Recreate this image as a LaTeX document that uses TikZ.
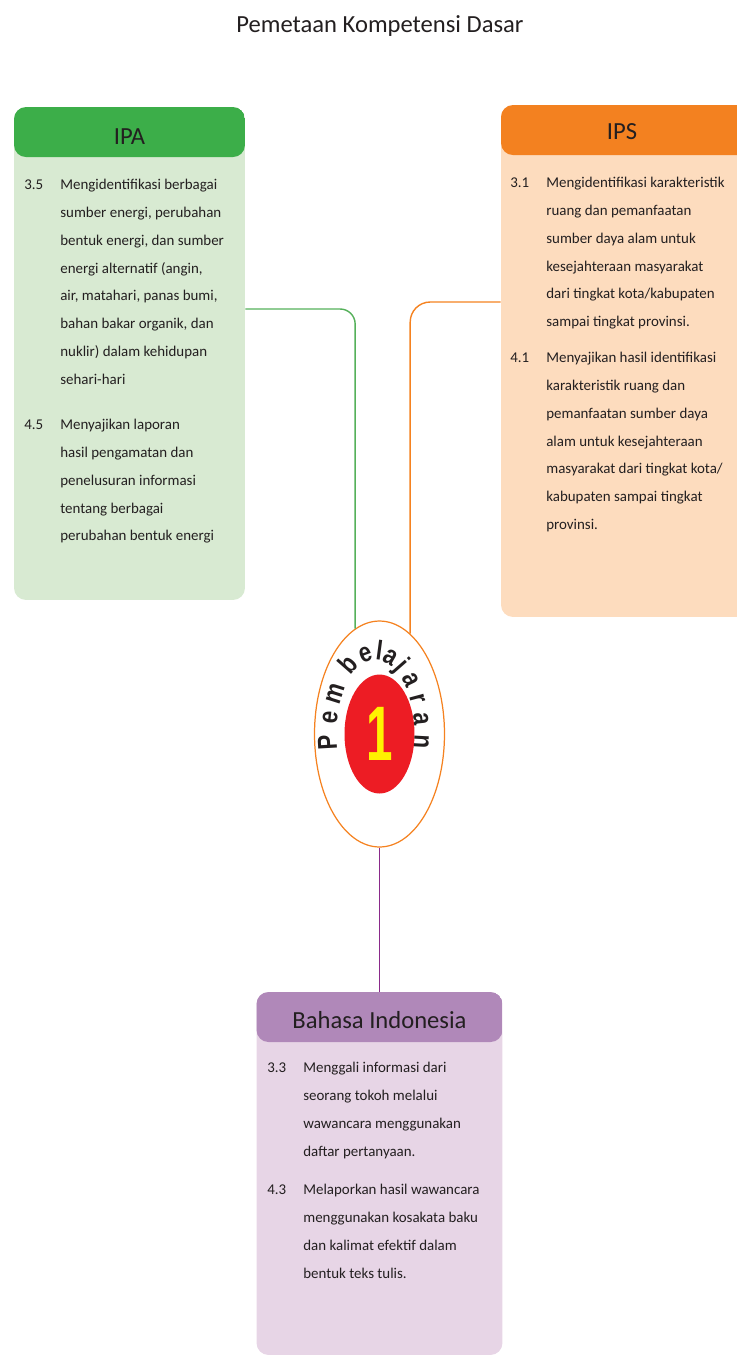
\documentclass[tikz,border=0pt]{standalone}
\usepackage{fontspec}
\setmainfont{Carlito}
\newfontfamily\pembfont{Liberation Sans}[FakeStretch=0.82]
\usetikzlibrary{shapes.geometric}
\definecolor{ink}{RGB}{35,31,32}
\definecolor{ipahead}{RGB}{60,174,73}
\definecolor{ipabody}{RGB}{216,234,210}
\definecolor{ipshead}{RGB}{243,129,32}
\definecolor{ipsbody}{RGB}{253,220,190}
\definecolor{binhead}{RGB}{176,136,185}
\definecolor{binbody}{RGB}{231,213,230}
\definecolor{ipaline}{RGB}{85,176,90}
\definecolor{ipsline}{RGB}{245,130,32}
\definecolor{binline}{RGB}{138,42,138}
\definecolor{merah}{RGB}{237,28,36}
\definecolor{kuning}{RGB}{255,242,0}

\begin{document}
\begin{tikzpicture}[x=0.02cm, y=-0.02cm,
    kdbox/.style n args={3}{rectangle, rounded corners=0.24cm, inner sep=0pt,
      minimum width=#1, minimum height=#2,
      path picture={\fill[#3] (path picture bounding box.north west)
        rectangle ([yshift=-1cm]path picture bounding box.north east);}},
    kdhead/.style={inner sep=0pt, text=ink, font=\fontsize{14}{15}\selectfont},
    kdtext/.style={anchor=north west, inner sep=0pt, text=ink,
      font=\fontsize{8.5}{15.8}\selectfont},
    huruf/.style={inner sep=0pt, anchor=base, text=ink,
      font=\pembfont\bfseries\fontsize{15.5}{16}\selectfont},
    garis/.style={line width=0.8pt}]
  \useasboundingbox (0,0) rectangle (737,1357);
  \clip (0,0) rectangle (737,1357);

  \node[anchor=base, text=ink, font=\fontsize{14}{16}\selectfont] (judul) at (380,32)
    {Pemetaan Kompetensi Dasar};

  % kotak mata pelajaran
  \node[kdbox={4.62cm}{9.86cm}{ipahead}, fill=ipabody] (ipa) at (129.5,353.5) {};
  \node[kdhead] (ipajudul) at (129.5,137) {IPA};
  \node[kdtext] (ipa35) at (24,170) {\begin{tabular}{@{}p{0.72cm}@{}l@{}}
    3.5 & Mengidentifikasi berbagai\\
        & sumber energi, perubahan\\
        & bentuk energi, dan sumber\\
        & energi alternatif (angin,\\
        & air, matahari, panas bumi,\\
        & bahan bakar organik, dan\\
        & nuklir) dalam kehidupan\\
        & sehari-hari
  \end{tabular}};
  \node[kdtext] (ipa45) at (24,410) {\begin{tabular}{@{}p{0.72cm}@{}l@{}}
    4.5 & Menyajikan laporan\\
        & hasil pengamatan dan\\
        & penelusuran informasi\\
        & tentang berbagai\\
        & perubahan bentuk energi
  \end{tabular}};

  \node[kdbox={4.96cm}{10.24cm}{ipshead}, fill=ipsbody] (ips) at (625,361) {};
  \node[kdhead] (ipsjudul) at (622,132) {IPS};
  \node[kdtext] (ips31) at (510,168) {\begin{tabular}{@{}p{0.72cm}@{}l@{}}
    3.1 & Mengidentifikasi karakteristik\\
        & ruang dan pemanfaatan\\
        & sumber daya alam untuk\\
        & kesejahteraan masyarakat\\
        & dari tingkat kota/kabupaten\\
        & sampai tingkat provinsi.
  \end{tabular}};
  \node[kdtext] (ips41) at (510,343) {\begin{tabular}{@{}p{0.72cm}@{}l@{}}
    4.1 & Menyajikan hasil identifikasi\\
        & karakteristik ruang dan\\
        & pemanfaatan sumber daya\\
        & alam untuk kesejahteraan\\
        & masyarakat dari tingkat kota/\\
        & kabupaten sampai tingkat\\
        & provinsi.
  \end{tabular}};

  \node[kdbox={4.92cm}{7.26cm}{binhead}, fill=binbody] (bin) at (379.5,1173.5) {};
  \node[kdhead] (binjudul) at (379.5,1020) {Bahasa Indonesia};
  \node[kdtext] (bin33) at (267,1053) {\begin{tabular}{@{}p{0.72cm}@{}l@{}}
    3.3 & Menggali informasi dari\\
        & seorang tokoh melalui\\
        & wawancara menggunakan\\
        & daftar pertanyaan.
  \end{tabular}};
  \node[kdtext] (bin43) at (267,1175) {\begin{tabular}{@{}p{0.72cm}@{}l@{}}
    4.3 & Melaporkan hasil wawancara\\
        & menggunakan kosakata baku\\
        & dan kalimat efektif dalam\\
        & bentuk teks tulis.
  \end{tabular}};

  % lingkaran pembelajaran
  \node[ellipse, draw=ipsline, line width=0.7pt, fill=white, inner sep=0pt,
    minimum width=2.6cm, minimum height=4.52cm] (pemb) at (379.5,734) {};
  \node[ellipse, fill=merah, inner sep=0pt, minimum width=1.4cm,
    minimum height=2.38cm, text=kuning,
    font=\pembfont\bfseries\fontsize{44}{44}\selectfont] (nomor) at (pemb.center)
    {\scalebox{0.75}[1]{1}};
  \foreach \h/\t [count=\i] in {P/186,e/168,m/149,b/121,e/101,l/86,a/73,j/59,a/43,r/27,a/11,n/-6}
    \node[huruf, rotate={atan2(sin(\t)/74,cos(\t)/39)-90}] (huruf\i)
      at ([xshift=-0.08cm, shift={({39*cos(\t)},{-74*sin(\t)})}]pemb.center) {\h};

  \draw[garis, draw=ipaline, rounded corners=0.3cm] ([yshift=0.89cm]ipa.east) -| (pemb.103);
  \draw[garis, draw=ipsline, rounded corners=0.4cm] ([yshift=1.18cm]ips.west) -| (pemb.73);
  \draw[garis, draw=binline] (pemb.south) -- (bin.north);
\end{tikzpicture}
\end{document}
